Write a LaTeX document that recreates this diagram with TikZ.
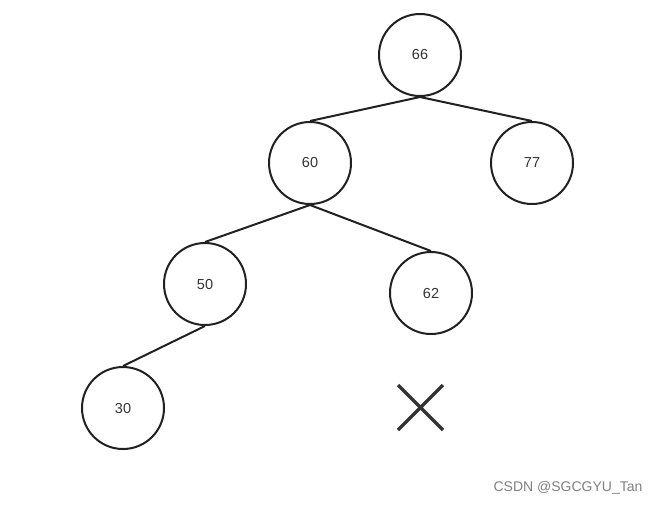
\documentclass[tikz,border=0pt]{standalone}
\usepackage{fontspec}
\setmainfont{Liberation Sans}

\begin{document}
\begin{tikzpicture}[x=1pt,y=-1pt,
    keynode/.style={draw=black!87, line width=2pt, circle, minimum size=82pt,
        inner sep=0pt, text=black!80, font=\fontsize{14.5}{16}\selectfont},
    treeedge/.style={draw=black!87, line width=2pt}]

        % Canvas
        \useasboundingbox (0,0) rectangle (660,504);

        % Keys
        \node[keynode] (k66) at (420,55) {66};
        \node[keynode] (k60) at (310,163) {60};
        \node[keynode] (k77) at (532,163) {77};
        \node[keynode] (k50) at (205,284) {50};
        \node[keynode] (k62) at (431,293) {62};
        \node[keynode] (k30) at (123,408) {30};

        % Edges
        \draw[treeedge] (k66.south) -- (k60.north);
        \draw[treeedge] (k66.south) -- (k77.north);
        \draw[treeedge] (k60.south) -- (k50.north);
        \draw[treeedge] (k60.south) -- (k62.north);
        \draw[treeedge] (k50.south) -- (k30.north);

        % Cross
        \coordinate (xc) at (420,408);
        \draw[draw=black!80, line width=3.5pt]
            ([shift={(-22,-23)}]xc) -- ([shift={(23,22)}]xc)
            ([shift={(23,-23)}]xc) -- ([shift={(-22,22)}]xc);

        % Watermark
        \node[text=black!50, font=\fontsize{14}{16}\selectfont] (mark) at (568,488) {CSDN @SGCGYU\_Tan};

    \end{tikzpicture}
\end{document}
